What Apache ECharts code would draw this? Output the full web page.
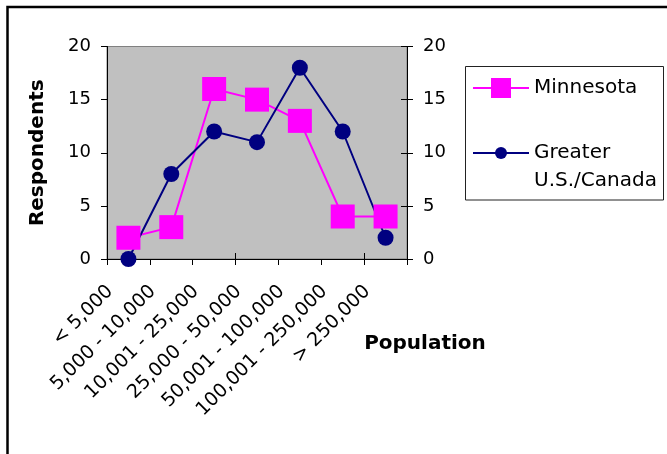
<!DOCTYPE html>
<html>
<head>
<meta charset="utf-8">
<script src="https://cdn.jsdelivr.net/npm/echarts@6/dist/echarts.min.js"></script>
<style>
  html, body { margin: 0; padding: 0; background: #fff; }
  #chart { width: 667px; height: 454px; }
</style>
</head>
<body>
<div id="chart"></div>
<script>
// Population bands of respondents' home towns
const categories = ['< 5,000', '5,000 - 10,000', '10,001 - 25,000', '25,000 - 50,000',
                    '50,001 - 100,000', '100,001 - 250,000', '> 250,000'];
// Respondent counts per band
const minnesota = [2, 3, 16, 15, 13, 4, 4];
const greaterUSCanada = [0, 8, 12, 11, 18, 12, 2];
// Value axis range / step (ticks 0, 5, 10, 15, 20)
const yMin = 0, yMax = 20, yStep = 5;

const FONT = 'DejaVu Sans';
const chart = echarts.init(document.getElementById('chart'), null, { renderer: 'canvas' });

const valueAxisBase = {
  type: 'value', min: yMin, max: yMax, interval: yStep,
  splitLine: { show: false },
  axisLine: { show: true, lineStyle: { color: '#000', width: 1 } },
  axisTick: { show: true, length: 6, lineStyle: { color: '#000' } },
  axisLabel: { color: '#000', fontFamily: FONT, fontSize: 18, margin: 16 }
};

chart.setOption({
  animation: false,
  backgroundColor: '#fff',
  grid: {
    left: 107, right: 260, top: 46.5, bottom: 195,
    show: true, backgroundColor: '#c0c0c0', borderColor: '#808080', borderWidth: 1
  },
  xAxis: [
    {
      type: 'category', data: categories, boundaryGap: true, position: 'bottom',
      axisLine: { show: true, lineStyle: { color: '#000', width: 1 } },
      axisTick: { show: true, length: 6, lineStyle: { color: '#000' } },
      axisLabel: {
        interval: 0, rotate: 45, color: '#000', fontFamily: FONT, fontSize: 19,
        // right padding sets the slanted labels a little left of their category
        margin: 11, padding: [0, 26, 0, 0]
      },
      name: 'Population', nameLocation: 'middle', nameGap: 75, nameMoveOverlap: false,
      nameTextStyle: {
        color: '#000', fontFamily: FONT, fontSize: 20, fontWeight: 'bold',
        padding: [0, 0, 0, 336]
      }
    },
    {
      // inner half of the crossing category ticks
      type: 'category', data: categories, boundaryGap: true, position: 'bottom',
      axisLine: { show: false },
      axisTick: { show: true, inside: true, length: 6, lineStyle: { color: '#000' } },
      axisLabel: { show: false }
    }
  ],
  yAxis: [
    Object.assign({}, valueAxisBase, {
      position: 'left',
      name: 'Respondents', nameLocation: 'middle', nameRotate: 90, nameGap: 59,
      nameMoveOverlap: false,
      nameTextStyle: { color: '#000', fontFamily: FONT, fontSize: 20, fontWeight: 'bold' }
    }),
    Object.assign({}, valueAxisBase, { position: 'right' }),
    {
      // inner half of the crossing ticks on the right axis
      type: 'value', min: yMin, max: yMax, interval: yStep, position: 'right',
      splitLine: { show: false }, axisLine: { show: false },
      axisTick: { show: true, inside: true, length: 6, lineStyle: { color: '#000' } },
      axisLabel: { show: false }
    }
  ],
  legend: [
    {
      data: ['Minnesota'], left: 472, top: 78, padding: 0,
      itemWidth: 56, itemHeight: 25,
      textStyle: { color: '#000', fontFamily: FONT, fontSize: 20 }
    },
    {
      data: ['Greater U.S./Canada'], left: 472, top: 111, padding: 0,
      itemWidth: 56, itemHeight: 15,
      // leading blank line keeps "Greater" level with the marker
      formatter: () => '\nGreater\nU.S./Canada',
      textStyle: { color: '#000', fontFamily: FONT, fontSize: 20, lineHeight: 28 }
    }
  ],
  graphic: [
    {
      type: 'rect', silent: true,
      shape: { x: 7.5, y: 7, width: 720, height: 520 },
      style: { fill: 'none', stroke: '#000', lineWidth: 2.5 }
    },
    {
      type: 'rect', silent: true,
      shape: { x: 465.5, y: 66.5, width: 198, height: 133.5 },
      style: { fill: 'none', stroke: '#222', lineWidth: 1 }
    }
  ],
  series: [
    {
      name: 'Minnesota', type: 'line', data: minnesota,
      xAxisIndex: 0, yAxisIndex: 0,
      symbol: 'rect', symbolSize: 24,
      lineStyle: { color: '#ff00ff', width: 2 },
      itemStyle: { color: '#ff00ff' }
    },
    {
      name: 'Greater U.S./Canada', type: 'line', data: greaterUSCanada,
      xAxisIndex: 0, yAxisIndex: 0,
      symbol: 'circle', symbolSize: 16,
      lineStyle: { color: '#000080', width: 2 },
      itemStyle: { color: '#000080' }
    }
  ]
});
</script>
</body>
</html>
